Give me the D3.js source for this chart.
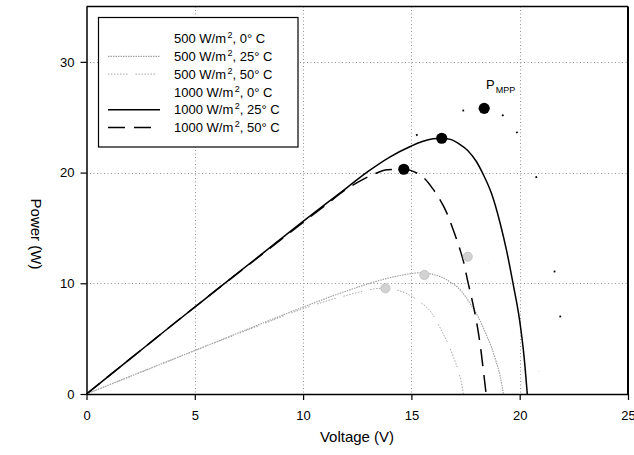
<!DOCTYPE html>
<html>
<head>
<meta charset="utf-8">
<script src="https://cdn.jsdelivr.net/npm/d3@7"></script>
<style>
  body { margin: 0; background: #fff; }
  svg { display: block; }
  text { font-family: "Liberation Sans", Arial, Helvetica, sans-serif; fill: #000; }
</style>
</head>
<body>
<svg id="chart" width="634" height="455"></svg>
<script>
// Axis ticks
const xTicks = [0, 5, 10, 15, 20, 25];
const yTicks = [0, 10, 20, 30];

// P-V curves of a PV module: voltage (V) and power (W) per condition
const volt500_0 = [0, 4, 8, 12, 14, 16, 17, 17.6, 18.2, 18.8, 19.4, 19.9, 20.4, 20.8, 21.1];
const pow500_0  = [0, 3.1, 6.2, 9.2, 10.6, 11.8, 12.25, 12.4, 12.2, 11.5, 10.0, 7.9, 5.2, 2.6, 0];

const volt500_25 = [0, 2, 4, 6, 8, 10, 11, 12, 13, 14, 14.9, 15.4, 16.0, 16.4, 16.8, 17.1, 17.5, 17.8, 18.1, 18.4, 18.7, 18.9, 19.1, 19.25];
const pow500_25  = [0, 1.58, 3.15, 4.72, 6.3, 7.85, 8.6, 9.3, 9.95, 10.5, 10.85, 10.95, 10.8, 10.55, 10.1, 9.7, 8.8, 7.9, 6.9, 5.6, 4.2, 3.0, 1.6, 0];

const volt500_50 = [0, 2, 4, 6, 8, 10, 11, 12, 12.8, 13.3, 13.8, 14.3, 14.8, 15.3, 15.9, 16.4, 16.7, 16.95, 17.15, 17.3, 17.4];
const pow500_50  = [0, 1.57, 3.13, 4.68, 6.2, 7.7, 8.35, 8.9, 9.3, 9.5, 9.55, 9.4, 9.05, 8.45, 7.4, 5.7, 4.5, 3.3, 2.2, 1.1, 0];

const volt1000_0 = [0, 4, 8, 12, 14, 15.25, 16, 16.8, 17.37, 18.36, 19.2, 19.85, 20.3, 20.75, 21.2, 21.6, 21.86, 22.1, 22.3];
const pow1000_0  = [0, 6.25, 12.45, 18.5, 21.3, 23.4, 24.4, 25.2, 25.6, 25.8, 25.2, 23.7, 22.0, 19.7, 15.9, 11.2, 7.2, 3.5, 0];

const volt1000_25 = [0, 2, 4, 6, 8, 10, 11, 12, 13, 14, 15, 15.5, 16, 16.4, 16.8, 17.2, 17.6, 18.0, 18.3, 18.7, 19.1, 19.4, 19.7, 20.0, 20.2, 20.35];
const pow1000_25  = [0, 3.15, 6.3, 9.4, 12.5, 15.6, 17.1, 18.6, 20.1, 21.4, 22.4, 22.8, 23.05, 23.1, 23.0, 22.6, 22.0, 21.0, 19.9, 18.1, 15.4, 12.9, 9.9, 6.6, 3.4, 0];

const volt1000_50 = [0, 2, 4, 6, 8, 10, 11, 12, 12.6, 13.2, 13.9, 14.65, 14.95, 15.3, 15.64, 16.0, 16.3, 16.6, 16.9, 17.2, 17.4, 17.6, 17.8, 18.0, 18.2, 18.33, 18.45];
const pow1000_50  = [0, 3.15, 6.3, 9.4, 12.45, 15.5, 17.0, 18.5, 19.2, 19.8, 20.25, 20.3, 20.2, 19.9, 19.4, 18.5, 17.6, 16.5, 15.0, 13.3, 12.0, 10.2, 8.5, 6.6, 4.1, 2.0, 0];

// Legend entries, in drawing order
const irradiance = [500, 500, 500, 1000, 1000, 1000];
const temperature = [0, 25, 50, 0, 25, 50];

// Maximum power points (V, W)
const mppVolt = [17.6, 15.6, 13.8, 18.36, 16.4, 14.65];
const mppPow  = [12.4, 10.75, 9.55, 25.8, 23.1, 20.3];

const curveVolts = [volt500_0, volt500_25, volt500_50, volt1000_0, volt1000_25, volt1000_50];
const curvePows  = [pow500_0, pow500_25, pow500_50, pow1000_0, pow1000_25, pow1000_50];

// Line styles per condition (legend sample may use its own dash phase)
const styles = [
  { stroke: "#dedede", width: 1,   dash: "1,60", legendDash: "0,60" },
  { stroke: "#a2a2a2", width: 1.2, dash: "1.5,1" },
  { stroke: "#a8a8a8", width: 1,   dash: "1.5,1.5,1.5,1.5,1.5,1.5,1.5,1.5,1.5,1.5,1.5,1.5,1.5,8" },
  { stroke: "#000",    width: 1.8, dash: "0,419,1.8,51,1.8,39.5,1.8,20.5,1.8,47,1.8,94.5,1.8,43.5,1.8,600", legendDash: "0,60" },
  { stroke: "#000",    width: 1.5, dash: null },
  { stroke: "#000",    width: 1.5, dash: "17,9" }
];

const svg = d3.select("#chart");
const x = d3.scaleLinear().domain([0, 25]).range([86.5, 628]);
const y = d3.scaleLinear().domain([0, 35]).range([394, 6.5]);

// Dotted grid
const grid = svg.append("g").attr("stroke", "#949494").attr("stroke-width", 1).attr("stroke-dasharray", "1,2.5");
grid.selectAll("line.v").data(xTicks.slice(1, -1)).join("line")
  .attr("x1", d => Math.round(x(d)) + 0.5).attr("x2", d => Math.round(x(d)) + 0.5)
  .attr("y1", y(35)).attr("y2", y(0));
grid.selectAll("line.h").data(yTicks.slice(1)).join("line")
  .attr("x1", x(0)).attr("x2", x(25))
  .attr("y1", d => Math.round(y(d)) + 0.5).attr("y2", d => Math.round(y(d)) + 0.5);

// Curves
const line = d3.line().x(d => x(d[0])).y(d => y(d[1])).curve(d3.curveMonotoneX);
curveVolts.forEach((vs, i) => {
  const pts = vs.map((v, k) => [v, curvePows[i][k]]);
  const s = styles[i];
  svg.append("path").datum(pts)
    .attr("fill", "none")
    .attr("stroke", s.stroke)
    .attr("stroke-width", s.width)
    .attr("stroke-dasharray", s.dash)
    .attr("d", line);
});

// Maximum power points
svg.append("g").selectAll("circle").data(mppVolt.map((v, i) => [v, mppPow[i], irradiance[i]])).join("circle")
  .attr("cx", d => x(d[0])).attr("cy", d => y(d[1]))
  .attr("r", d => d[2] === 1000 ? 5.6 : 4.6)
  .attr("fill", d => d[2] === 1000 ? "#000" : "#d2d2d2")
  .attr("stroke", d => d[2] === 1000 ? "none" : "#bdbdbd")
  .attr("stroke-width", 0.8);

// P_MPP annotation
const ann = svg.append("text").attr("x", 486).attr("y", 89).attr("font-size", 13);
ann.append("tspan").text("P");
ann.append("tspan").attr("font-size", 9).attr("dy", 4).attr("dx", 1).text("MPP");

// Frame and axes
svg.append("line").attr("x1", x(0)).attr("x2", x(25)).attr("y1", 6.5).attr("y2", 6.5).attr("stroke", "#000").attr("stroke-width", 1.3);
svg.append("line").attr("x1", x(25)).attr("x2", x(25)).attr("y1", 6.5).attr("y2", 394).attr("stroke", "#000").attr("stroke-width", 2);

const xAxis = svg.append("g").attr("transform", "translate(0,394)")
  .call(d3.axisBottom(x).tickValues(xTicks).tickSize(6).tickPadding(11).tickSizeOuter(0));
const yAxis = svg.append("g").attr("transform", "translate(86.5,0)")
  .call(d3.axisLeft(y).tickValues(yTicks).tickSize(6).tickPadding(6).tickSizeOuter(0));
[xAxis, yAxis].forEach(a => {
  a.select(".domain").attr("stroke", "#000").attr("stroke-width", 1.5);
  a.selectAll(".tick line").attr("stroke", "#000").attr("stroke-width", 1.2);
  a.selectAll(".tick text").attr("font-size", 13).attr("font-family", "Liberation Sans, Arial, sans-serif").attr("fill", "#000");
});

// Axis titles
svg.append("text").attr("x", 357).attr("y", 442).attr("text-anchor", "middle").attr("font-size", 15).text("Voltage (V)");
svg.append("text").attr("transform", "translate(31,234) rotate(90)").attr("text-anchor", "middle").attr("font-size", 15).text("Power (W)");

// Legend
const leg = svg.append("g");
leg.append("rect").attr("x", 98.5).attr("y", 17.5).attr("width", 199.5).attr("height", 129.5)
  .attr("fill", "#fff").attr("stroke", "#000").attr("stroke-width", 1.2);
irradiance.forEach((irr, i) => {
  const cy = 38.5 + i * 17.8;
  const s = styles[i];
  leg.append("line").attr("x1", 108).attr("x2", 160).attr("y1", cy).attr("y2", cy)
    .attr("stroke", s.stroke).attr("stroke-width", s.width)
    .attr("stroke-dasharray", s.legendDash || s.dash);
  const t = leg.append("text").attr("x", 174).attr("y", cy + 4.7).attr("font-size", 13);
  t.append("tspan").text(irr + " W/m");
  t.append("tspan").attr("font-size", 9).attr("dx", 1.5).attr("dy", -5).text("2");
  t.append("tspan").attr("dy", 5).text(", " + temperature[i] + "\u00b0 C");
});
</script>
</body>
</html>
